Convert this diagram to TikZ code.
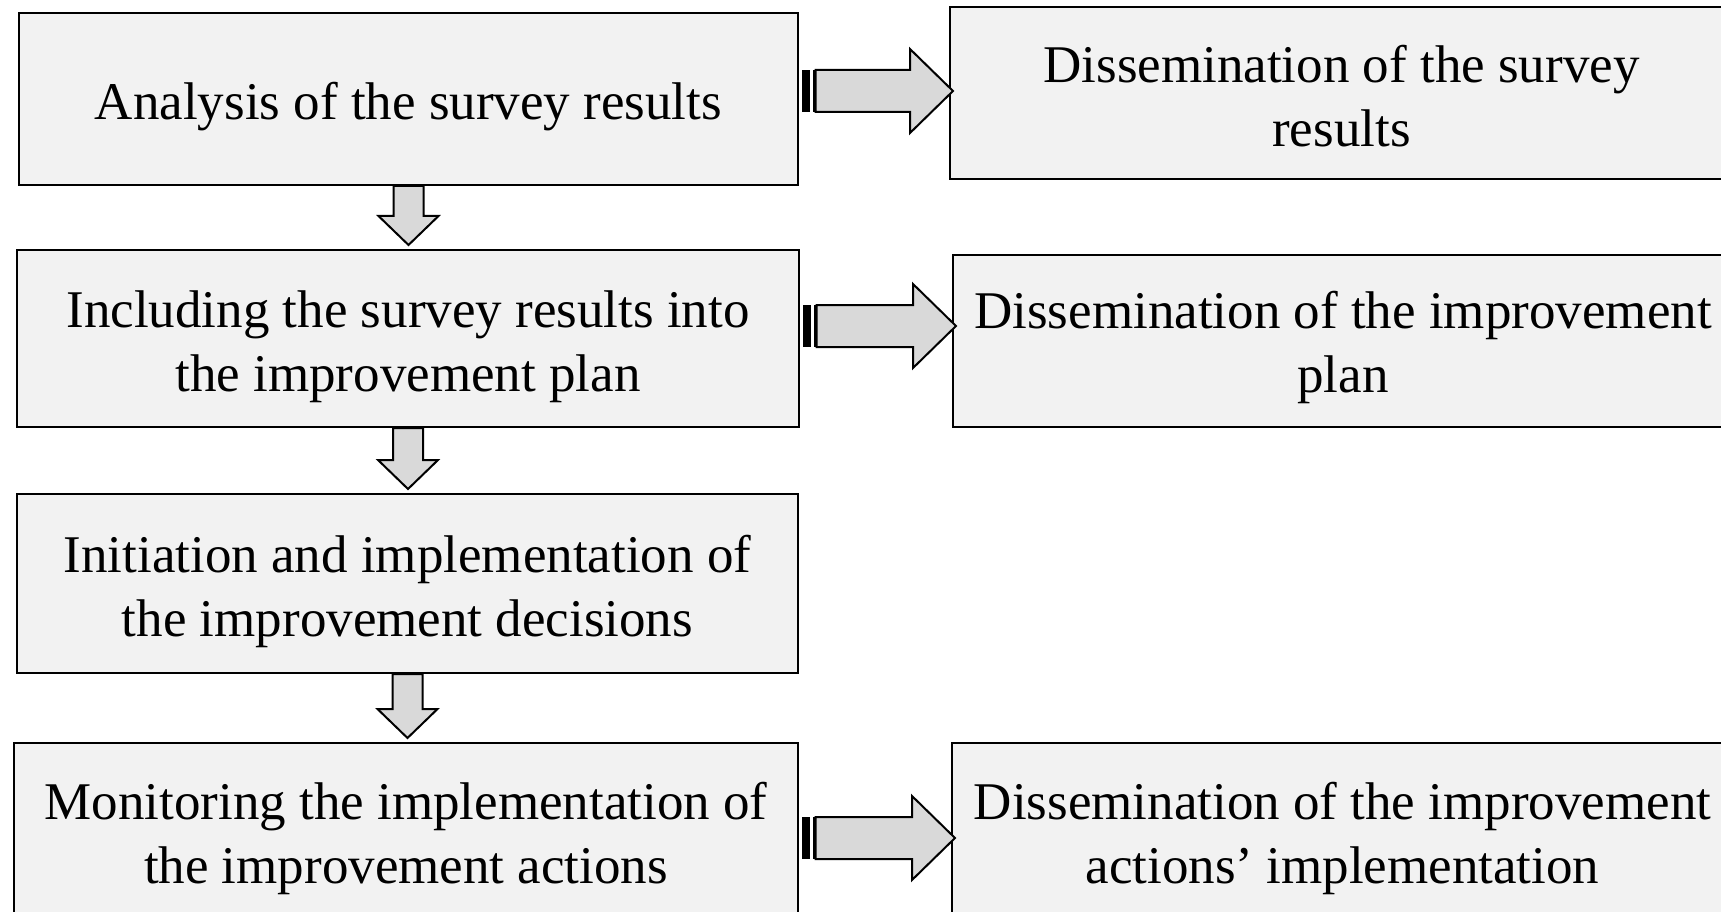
\documentclass[tikz,border=0pt]{standalone}
\usepackage{fontspec}
\setmainfont{Liberation Serif}
\usetikzlibrary{calc}
\definecolor{boxfill}{HTML}{F2F2F2}
\definecolor{arrfill}{HTML}{D9D9D9}
\tikzset{
  box/.style={draw=black, line width=2pt, fill=boxfill, inner sep=0pt},
  txt/.style={align=center, inner sep=0pt, font=\fontsize{53}{64}\selectfont},
  arr/.style={draw=black, line width=2pt, fill=arrfill, line join=miter},
}
\newcommand\DnArrow[2]{%
  \draw[arr] let \p1=(#1.south), \p2=(#2.north) in
    (\x1-15pt,\y1) -- (\x1+15pt,\y1) -- (\x1+15pt,\y2+33pt) -- (\x1+30pt,\y2+33pt)
    -- (\x1,\y2+4pt) -- (\x1-30pt,\y2+33pt) -- (\x1-15pt,\y2+33pt) -- cycle;}
\newcommand\RtArrow[3]{%
  \path let \p1=(#1.east), \p2=(#2.west) in
    (\x1+3pt,-#3pt) coordinate (s#1) (\x2+4pt,-#3pt) coordinate (t#1);
  \fill[black] let \p1=(s#1) in (\x1,\y1-21pt) rectangle (\x1+8pt,\y1+21pt);
  \fill[black] let \p1=(s#1) in (\x1+10.5pt,\y1-21pt) rectangle (\x1+13.5pt,\y1+21pt);
  \draw[arr] let \p1=(s#1), \p2=(t#1) in
    (\x1+13.5pt,\y1+21pt) -- (\x2-43pt,\y1+21pt) -- (\x2-43pt,\y1+42pt) -- (\x2,\y1)
    -- (\x2-43pt,\y1-42pt) -- (\x2-43pt,\y1-21pt) -- (\x1+13.5pt,\y1-21pt) -- cycle;}
\begin{document}
\begin{tikzpicture}[x=1pt,y=-1pt]
\useasboundingbox[fill=white] (0,0) rectangle (1721,912);
\node[box, minimum width=779pt, minimum height=172pt,
  label={[txt,yshift=-8pt]center:{Analysis of the survey results}}] (b1) at (408.5,99) {};
\node[box, minimum width=782pt, minimum height=177pt,
  label={[txt,yshift=-8pt]center:{Including the survey results into\\the improvement plan}}] (b2) at (408,338.5) {};
\node[box, minimum width=781pt, minimum height=179pt,
  label={[txt,yshift=-8pt]center:{Initiation and implementation of\\the improvement decisions}}] (b3) at (407.5,583.5) {};
\node[box, minimum width=784pt, minimum height=180pt,
  label={[txt,yshift=-5pt]center:{Monitoring the implementation of\\the improvement actions}}] (b4) at (406,833) {};
\node[box, minimum width=783pt, minimum height=172pt,
  label={[txt,yshift=-3pt]center:{Dissemination of the survey\\results}}] (r1) at (1341.5,93) {};
\node[box, minimum width=780pt, minimum height=172pt,
  label={[txt,yshift=-6pt]center:{Dissemination of the improvement\\plan}}] (r2) at (1343,341) {};
\node[box, minimum width=781pt, minimum height=180pt,
  label={[txt,yshift=-5pt]center:{Dissemination of the improvement\\actions’ implementation}}] (r4) at (1342.5,833) {};
\DnArrow{b1}{b2}
\DnArrow{b2}{b3}
\DnArrow{b3}{b4}
\RtArrow{b1}{r1}{91}
\RtArrow{b2}{r2}{326}
\RtArrow{b4}{r4}{838}
\end{tikzpicture}
\end{document}
